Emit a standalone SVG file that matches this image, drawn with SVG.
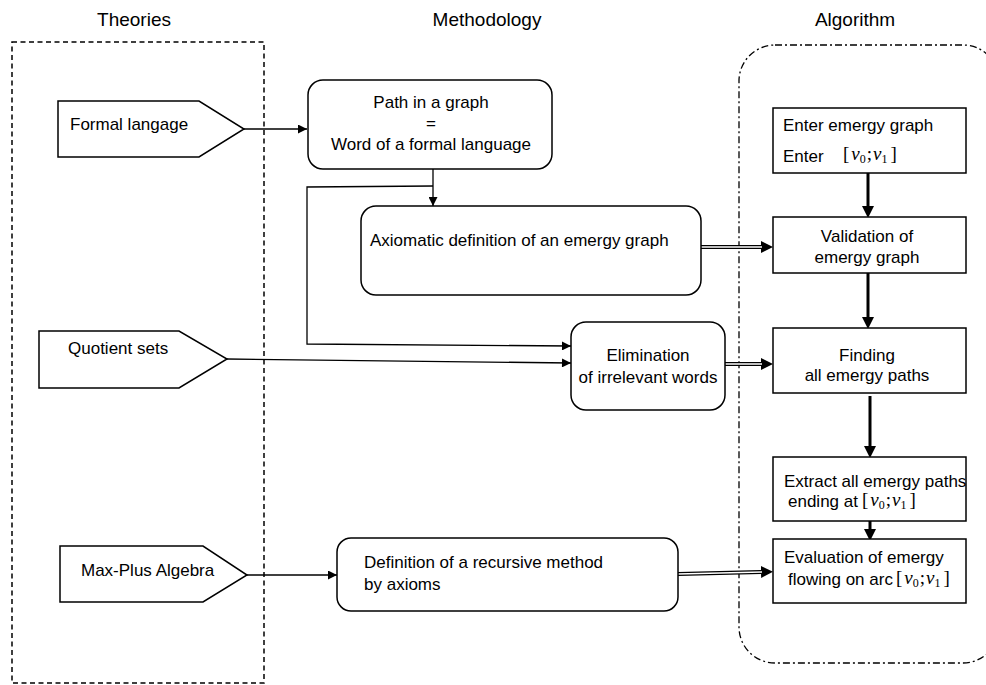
<svg xmlns="http://www.w3.org/2000/svg" width="986" height="685" viewBox="0 0 986 685">
<style>
text{font-family:"Liberation Sans",Arial,sans-serif;font-size:17px;fill:#000}
.t{font-size:19px;text-anchor:middle}
.c{text-anchor:middle}
.m{font-family:"Liberation Serif","Times New Roman",serif;font-size:19px}
.m .i{font-style:italic}
.m .s{font-size:12px}
.box{fill:#fff;stroke:#000;stroke-width:1.5}
.ln{fill:none;stroke:#000;stroke-width:1.3}
.thick{fill:none;stroke:#000;stroke-width:3}
.dbo{fill:none;stroke:#000;stroke-width:4.2}
.dbi{fill:none;stroke:#fff;stroke-width:1.4}
</style>
<defs>
<marker id="ah" viewBox="0 0 10 10" refX="10" refY="5" markerWidth="10" markerHeight="9" markerUnits="userSpaceOnUse" orient="auto"><path d="M0,0 L10,5 L0,10 z"/></marker>
<marker id="ahb" viewBox="0 0 10 10" refX="0" refY="5" markerWidth="12" markerHeight="12" markerUnits="userSpaceOnUse" orient="auto"><path d="M0,0 L10,5 L0,10 z"/></marker>
<marker id="aht" viewBox="0 0 10 10" refX="0" refY="5" markerWidth="12" markerHeight="12" markerUnits="userSpaceOnUse" orient="auto"><path d="M0,0 L10,5 L0,10 z"/></marker>
</defs>

<g id="titles">
<text class="t" x="134" y="26">Theories</text>
<text class="t" x="487" y="26">Methodology</text>
<text class="t" x="855" y="26">Algorithm</text>
</g>

<g id="frames">
<rect x="12" y="42" width="252" height="641" fill="none" stroke="#000" stroke-width="1.5" stroke-dasharray="5 3.5"/>
<rect x="739" y="45" width="260" height="618" rx="36" ry="36" fill="none" stroke="#000" stroke-width="1.3" stroke-dasharray="7 3 2 3"/>
</g>

<g id="connectors">
<line class="ln" x1="244" y1="129" x2="307" y2="129" marker-end="url(#ah)"/>
<line class="ln" x1="433" y1="169" x2="433" y2="206" marker-end="url(#ah)"/>
<polyline class="ln" points="433,186 307,187 307,344 571,346" marker-end="url(#ah)"/>
<line class="ln" x1="227" y1="359" x2="571" y2="363" marker-end="url(#ah)"/>
<line class="ln" x1="247" y1="575" x2="337" y2="575" marker-end="url(#ah)"/>

<line class="dbo" x1="701" y1="247" x2="761" y2="247" marker-end="url(#ahb)"/>
<line class="dbi" x1="701" y1="247" x2="762" y2="247"/>
<line class="dbo" x1="725" y1="364" x2="761" y2="364" marker-end="url(#ahb)"/>
<line class="dbi" x1="725" y1="364" x2="762" y2="364"/>
<line class="dbo" x1="678" y1="574" x2="761" y2="572" marker-end="url(#ahb)"/>
<line class="dbi" x1="678" y1="574" x2="762" y2="572"/>

<line class="thick" x1="868" y1="173" x2="868" y2="206" marker-end="url(#aht)"/>
<line class="thick" x1="868" y1="273" x2="868" y2="317" marker-end="url(#aht)"/>
<line class="thick" x1="870" y1="396" x2="870" y2="446" marker-end="url(#aht)"/>
<line class="thick" x1="870" y1="521" x2="870" y2="529" marker-end="url(#aht)"/>
</g>

<g id="formal">
<polygon class="box" points="58,101 199,101 244,129 199,157 58,157"/>
<text x="70" y="130">Formal langage</text>
</g>
<g id="quotient">
<polygon class="box" points="39,331 179,331 227,359 179,388 39,388"/>
<text x="68" y="354">Quotient sets</text>
</g>
<g id="maxplus">
<polygon class="box" points="60,546 203,546 247,575 203,602 60,602"/>
<text x="81" y="576">Max-Plus Algebra</text>
</g>

<g id="path">
<rect class="box" x="308" y="80" width="244" height="89" rx="15"/>
<text class="c" x="431" y="108">Path in a graph</text>
<text class="c" x="431" y="129">=</text>
<text class="c" x="431" y="150">Word of a formal language</text>
</g>
<g id="axiomatic">
<rect class="box" x="361" y="206" width="340" height="89" rx="15"/>
<text x="370" y="246">Axiomatic definition of an emergy graph</text>
</g>
<g id="elimination">
<rect class="box" x="571" y="322" width="154" height="88" rx="15"/>
<text class="c" x="648" y="361">Elimination</text>
<text class="c" x="648" y="383">of irrelevant words</text>
</g>
<g id="definition">
<rect class="box" x="337" y="538" width="341" height="73" rx="14"/>
<text x="364" y="568">Definition of a recursive method</text>
<text x="364" y="590">by axioms</text>
</g>

<g id="enter">
<rect class="box" x="773" y="108" width="193" height="65"/>
<text x="783" y="131">Enter emergy graph</text>
<text x="783" y="162">Enter</text>
<text class="m" x="843" y="160">[<tspan class="i" dx="2">v</tspan><tspan class="s" dy="3">0</tspan><tspan dy="-3" dx="1">;</tspan><tspan class="i" dx="1">v</tspan><tspan class="s" dy="3">1</tspan><tspan dy="-3" dx="3">]</tspan></text>
</g>
<g id="validation">
<rect class="box" x="773" y="217" width="193" height="56"/>
<text class="c" x="867" y="242">Validation of</text>
<text class="c" x="867" y="263">emergy graph</text>
</g>
<g id="finding">
<rect class="box" x="773" y="328" width="193" height="65"/>
<text class="c" x="867" y="361">Finding</text>
<text class="c" x="867" y="381">all emergy paths</text>
</g>
<g id="extract">
<rect class="box" x="773" y="457" width="193" height="64"/>
<text x="784" y="487">Extract all emergy paths</text>
<text x="788" y="507">ending at</text>
<text class="m" x="862" y="506">[<tspan class="i" dx="2">v</tspan><tspan class="s" dy="3">0</tspan><tspan dy="-3" dx="1">;</tspan><tspan class="i" dx="1">v</tspan><tspan class="s" dy="3">1</tspan><tspan dy="-3" dx="3">]</tspan></text>
</g>
<g id="evaluation">
<rect class="box" x="773" y="539" width="193" height="64"/>
<text x="784" y="563">Evaluation of emergy</text>
<text x="788" y="585">flowing on arc</text>
<text class="m" x="896" y="584">[<tspan class="i" dx="2">v</tspan><tspan class="s" dy="3">0</tspan><tspan dy="-3" dx="1">;</tspan><tspan class="i" dx="1">v</tspan><tspan class="s" dy="3">1</tspan><tspan dy="-3" dx="3">]</tspan></text>
</g>
</svg>
